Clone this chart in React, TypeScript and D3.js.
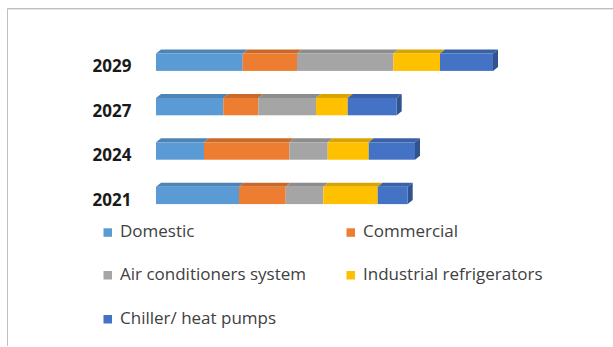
import React from "react";
import * as d3 from "d3";

const years = ["2029", "2027", "2024", "2021"];
const seriesNames = ["Domestic", "Commercial", "Air conditioners system", "Industrial refrigerators", "Chiller/ heat pumps"];
const domestic = [86.7, 67.3, 48, 83];
const commercial = [54.3, 35, 85.3, 46.7];
const airConditioners = [96.3, 57.7, 38.4, 37.6];
const industrial = [46.7, 31.7, 41, 54.4];
const chiller = [53, 49, 46.3, 30];
const colors = ["#5b9bd5", "#ed7d31", "#a5a5a5", "#ffc000", "#4472c4"];

const W = 613;
const H = 347;

export default function App() {
  const series = [domestic, commercial, airConditioners, industrial, chiller];
  const rows = years.map((y, i) => {
    const r: any = { year: y };
    seriesNames.forEach((n, k) => (r[n] = series[k][i]));
    return r;
  });
  const stack = d3.stack<any>().keys(seriesNames)(rows);
  const x = d3.scaleLinear().domain([0, 337]).range([156, 493]);
  const y = d3.scaleBand().domain(years).range([40, 217.6]).paddingInner(0.608).paddingOuter(0.304);
  const bh = y.bandwidth();
  const dx = 5;
  const dy = 4;
  const dark = (c: string, k: number) => d3.color(c)!.darker(k).formatHex();

  const legendItems = seriesNames.map((n, i) => ({
    name: n,
    color: colors[i],
    lx: i % 2 === 0 ? 103.5 : 346.5,
    ly: [237.3, 280, 324][Math.floor(i / 2)],
  }));

  return (
    <svg width={W} height={H} style={{ position: "absolute", left: 0, top: 0 }}>
      <rect x={0} y={0} width={W} height={H} fill="#ffffff" />
      <line x1={7.5} y1={8.5} x2={W} y2={8.5} stroke="#bfbfbf" strokeWidth={1} />
      <line x1={7.5} y1={8.5} x2={7.5} y2={346} stroke="#bfbfbf" strokeWidth={1} />
      <line x1={8} y1={9.5} x2={W} y2={9.5} stroke="#e6e6e6" strokeWidth={1} />
      {stack.map((s, k) => (
        <g key={k}>
          {s.map((d, i) => {
            const yr = years[i];
            const y0 = y(yr)!;
            const x0 = x(d[0]);
            const x1 = x(d[1]);
            const c = colors[k];
            const top = `M${x0},${y0} L${x0 + dx},${y0 - dy} L${x1 + dx},${y0 - dy} L${x1},${y0} Z`;
            const side = `M${x1},${y0} L${x1 + dx},${y0 - dy} L${x1 + dx},${y0 + bh - dy} L${x1},${y0 + bh} Z`;
            return (
              <g key={i}>
                <path d={top} fill={dark(c, 0.45)} />
                {k === seriesNames.length - 1 && <path d={side} fill={dark(c, 0.9)} />}
                <rect x={x0} y={y0} width={x1 - x0} height={bh} fill={c} />
              </g>
            );
          })}
        </g>
      ))}
      {years.map((yr) => (
        <text
          key={yr}
          x={92.5}
          y={y(yr)! + bh + 1.5}
          fontFamily="Open Sans"
          fontWeight="bold"
          fontSize={17}
          fill="#1a1a1a"
        >
          {yr}
        </text>
      ))}
      {legendItems.map((l) => (
        <g key={l.name}>
          <rect x={l.lx} y={l.ly - 9} width={8.5} height={8.5} fill={l.color} />
          <text x={l.lx + 16.5} y={l.ly} fontFamily="Open Sans" fontSize={17} fill="#404040">
            {l.name}
          </text>
        </g>
      ))}
    </svg>
  );
}
